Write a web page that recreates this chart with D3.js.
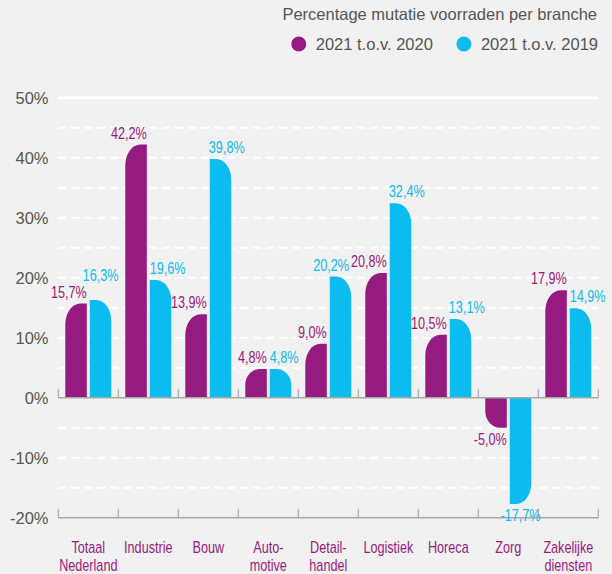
<!DOCTYPE html>
<html lang="nl">
<head>
    <meta charset="UTF-8">
    <title>Percentage mutatie voorraden per branche</title>
    <script src="https://d3js.org/d3.v7.min.js"></script>
    <style>
        body {
            margin: 0;
            background: #f1f1f1;
        }
        #chart {
            display: block;
            background: #f1f1f1;
        }
        .regular {
            font-family: "Liberation Sans", Arial, Helvetica, sans-serif;
            fill: #555;
        }
        .narrow {
            font-family: "Liberation Sans", Arial, sans-serif;
        }
    </style>
</head>
<body>
    <svg id="chart"></svg>
    <script>
        const width = 612;
        const height = 574;

        // data
        const categories = ['Totaal\nNederland', 'Industrie', 'Bouw', 'Auto-\nmotive', 'Detail-\nhandel',
            'Logistiek', 'Horeca', 'Zorg', 'Zakelijke\ndiensten'];
        const vs2020 = [15.7, 42.2, 13.9, 4.8, 9.0, 20.8, 10.5, -5.0, 17.9];
        const vs2019 = [16.3, 19.6, 39.8, 4.8, 20.2, 32.4, 13.1, -17.7, 14.9];
        const seriesNames = ['2021 t.o.v. 2020', '2021 t.o.v. 2019'];
        const yTicks = [-20, -10, 0, 10, 20, 30, 40, 50];
        const gridDashed = [-15, -10, -5, 5, 10, 15, 20, 25, 30, 35, 40, 45];
        const title = 'Percentage mutatie voorraden per branche';

        const purple = '#951b81';
        const blue = '#0cbbef';
        const colors = [purple, blue];

        // no condensed face installed, so squeeze the regular one horizontally
        const squeeze = 0.79;

        const svg = d3.select('#chart')
            .attr('width', width)
            .attr('height', height);

        const x = d3.scaleBand()
            .domain(categories)
            .range([58.3, 598.3]);

        const xInner = d3.scaleBand()
            .domain([0, 1])
            .range([7, x.bandwidth() - 7])
            .paddingInner(0.12);

        const y = d3.scaleLinear()
            .domain([-20, 50])
            .range([517.7, 97.7]);

        const [x0, x1] = x.range();

        // gridlines
        svg.append('g')
            .selectAll('line')
            .data(gridDashed)
            .join('line')
            .attr('x1', x0)
            .attr('x2', x1)
            .attr('y1', d => y(d))
            .attr('y2', d => y(d))
            .attr('stroke', '#fff')
            .attr('stroke-width', 2)
            .attr('stroke-dasharray', '8,5');

        svg.append('line')
            .attr('x1', x0)
            .attr('x2', x1)
            .attr('y1', y(50))
            .attr('y2', y(50))
            .attr('stroke', '#fff')
            .attr('stroke-width', 2.5);

        // y labels
        svg.append('g')
            .selectAll('text')
            .data(yTicks)
            .join('text')
            .attr('class', 'regular')
            .attr('x', 48.5)
            .attr('y', d => y(d))
            .attr('dy', '0.36em')
            .attr('text-anchor', 'end')
            .style('font-size', '16.5px')
            .text(d => d + '%');

        // bars
        const rows = categories.map((c, i) => ({ cat: c, vals: [vs2020[i], vs2019[i]] }));

        function barPath(bx, w, v, side) {
            // side 0: round outer-left corner, 1: round outer-right corner
            const top = y(Math.max(0, v));
            const bottom = y(Math.min(0, v));
            const h = bottom - top;
            const rx = Math.min(15, w * 0.72);
            const ry = Math.min(21, h * 0.55);
            const p = d3.path();
            if (v >= 0) {
                if (side === 0) {
                    p.moveTo(bx + w, bottom);
                    p.lineTo(bx + w, top);
                    p.lineTo(bx + rx, top);
                    p.bezierCurveTo(bx + rx * 0.45, top, bx, top + ry * 0.45, bx, top + ry);
                    p.lineTo(bx, bottom);
                } else {
                    p.moveTo(bx, bottom);
                    p.lineTo(bx, top);
                    p.lineTo(bx + w - rx, top);
                    p.bezierCurveTo(bx + w - rx * 0.45, top, bx + w, top + ry * 0.45, bx + w, top + ry);
                    p.lineTo(bx + w, bottom);
                }
            } else {
                if (side === 0) {
                    p.moveTo(bx + w, top);
                    p.lineTo(bx + w, bottom);
                    p.lineTo(bx + rx, bottom);
                    p.bezierCurveTo(bx + rx * 0.45, bottom, bx, bottom - ry * 0.45, bx, bottom - ry);
                    p.lineTo(bx, top);
                } else {
                    p.moveTo(bx, top);
                    p.lineTo(bx, bottom);
                    p.lineTo(bx + w - rx, bottom);
                    p.bezierCurveTo(bx + w - rx * 0.45, bottom, bx + w, bottom - ry * 0.45, bx + w, bottom - ry);
                    p.lineTo(bx + w, top);
                }
            }
            p.closePath();
            return p.toString();
        }

        const groups = svg.append('g')
            .selectAll('g')
            .data(rows)
            .join('g')
            .attr('transform', d => `translate(${x(d.cat)},0)`);

        groups.selectAll('path')
            .data(d => d.vals.map((v, k) => ({ v, k })))
            .join('path')
            .attr('d', d => barPath(xInner(d.k), xInner.bandwidth(), d.v, d.k))
            .attr('fill', d => colors[d.k]);

        // axis lines at 0 and -20 with ticks at band edges
        const edges = categories.map(c => x(c)).concat([x1]);
        [0, -20].forEach(v => {
            const g = svg.append('g');
            g.append('line')
                .attr('x1', x0)
                .attr('x2', x1)
                .attr('y1', y(v))
                .attr('y2', y(v))
                .attr('stroke', '#a8a8a8')
                .attr('stroke-width', 1.5);
            g.selectAll('.tick')
                .data(edges)
                .join('line')
                .attr('class', 'tick')
                .attr('x1', d => d)
                .attr('x2', d => d)
                .attr('y1', y(v))
                .attr('y2', y(v) - 9)
                .attr('stroke', '#a8a8a8')
                .attr('stroke-width', 1.2);
        });

        // value labels: purple right-aligned on its bar, blue placed then nudged off collisions
        const fmt = v => d3.format('.1f')(v).replace('.', ',').replace('\u2212', '-') + '%';
        const labelG = svg.append('g');
        const labels = [];
        rows.forEach((r, i) => {
            r.vals.forEach((v, k) => {
                const g = labelG.append('g');
                const t = g.append('text')
                    .attr('class', 'narrow')
                    .attr('fill', colors[k])
                    .style('font-size', '16px')
                    .text(fmt(v));
                const w = t.node().getComputedTextLength() * squeeze;
                const bx = x(r.cat) + xInner(k);
                const bw = xInner.bandwidth();
                let lx;
                if (k === 0) lx = bx + bw - w;
                else if (Math.abs(v) > Math.abs(r.vals[0])) lx = bx + bw / 2 - w / 2;
                else lx = bx;
                const ly = v >= 0 ? y(v) - 6 : y(v) + 17;
                labels.push({ node: g, i, k, v, x: lx, y: ly, w });
            });
        });

        const capH = 11.5;
        const overlapX = (a, b) => a.x < b.x + b.w && b.x < a.x + a.w;
        const overlapY = (a, b) => a.y - capH < b.y && b.y - capH < a.y;
        labels.filter(l => l.k === 1 && l.v >= 0).forEach(l => {
            const own = labels.find(o => o.i === l.i && o.k === 0);
            const next = labels.find(o => o.i === l.i + 1 && o.k === 0);
            if (overlapX(l, own)) {
                if (overlapY(l, own)) l.y = own.y - 17;
                else l.x = own.x + own.w + 2;
            }
            if (next && overlapX(l, next) && overlapY(l, next)) l.x = next.x - l.w - 2;
        });
        labels.forEach(l => l.node.attr('transform', `translate(${l.x},${l.y}) scale(${squeeze},1)`));

        // category labels
        groups.append('g')
            .attr('transform', `translate(${x.bandwidth() / 2},0) scale(${squeeze},1)`)
            .append('text')
            .attr('class', 'narrow')
            .attr('fill', purple)
            .attr('text-anchor', 'middle')
            .style('font-size', '16px')
            .selectAll('tspan')
            .data(d => d.cat.split('\n'))
            .join('tspan')
            .attr('x', 0)
            .attr('y', (d, i) => 553.5 + i * 17.5)
            .text(d => d);

        // legend
        svg.append('text')
            .attr('class', 'regular')
            .attr('x', 597)
            .attr('y', 20)
            .attr('text-anchor', 'end')
            .style('font-size', '16.5px')
            .text(title);

        const legend = svg.append('g');
        let cursor = 598;
        for (let k = seriesNames.length - 1; k >= 0; k--) {
            const t = legend.append('text')
                .attr('class', 'regular')
                .attr('x', cursor)
                .attr('y', 50)
                .attr('text-anchor', 'end')
                .style('font-size', '16.5px')
                .text(seriesNames[k]);
            const tw = t.node().getComputedTextLength();
            legend.append('circle')
                .attr('cx', cursor - tw - 17)
                .attr('cy', 44)
                .attr('r', 7.5)
                .attr('fill', colors[k]);
            cursor = cursor - tw - 48;
        }
    </script>
</body>
</html>
